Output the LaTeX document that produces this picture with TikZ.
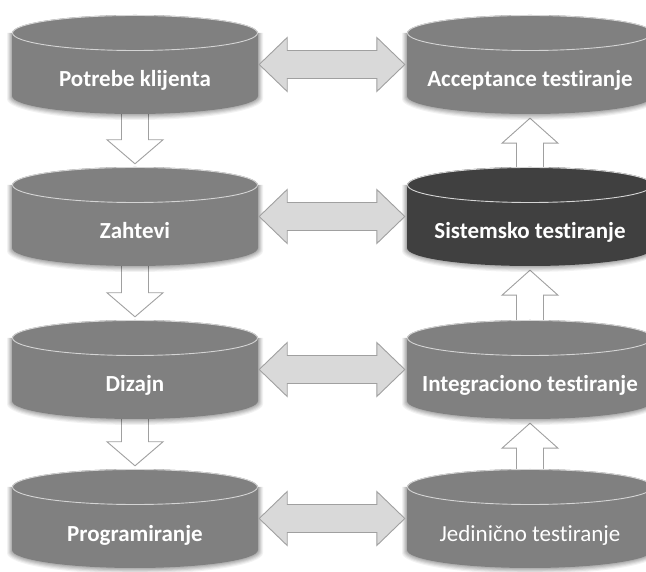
\documentclass[tikz,border=0pt]{standalone}
\usepackage{fontspec}
\setmainfont{Carlito}[RawFeature=-liga]
\usetikzlibrary{calc}
\definecolor{cylgray}{HTML}{808080}
\definecolor{cyldark}{HTML}{404040}
\definecolor{rimcol}{HTML}{D4D4D4}
\definecolor{dblfill}{HTML}{D9D9D9}
\definecolor{arrline}{HTML}{A0A0A0}
\tikzset{
  cylnode/.style={rectangle, minimum width=246pt, minimum height=99pt, inner sep=0pt},
  cyltext/.style={text=white, font=\bfseries\fontsize{23}{23}\selectfont, anchor=base, inner sep=0pt},
  cyltextlight/.style={text=white, font=\fontsize{23}{23}\selectfont, anchor=base, inner sep=0pt},
  dblarrow/.style={fill=dblfill, draw=arrline, line width=0.9pt, line join=miter},
  vertarrow/.style={fill=white, draw=arrline, line width=0.9pt, line join=miter},
  rimline/.style={draw=rimcol, line width=0.9pt},
}
\newcommand\cylshape[2]{% #1 node name, #2 fill colour
  \begin{scope}[shift={(#1.center)}]
    \foreach \k/\o in {5/0.05,4/0.06,3/0.07,2/0.08,1/0.08}{
      \fill[black, opacity=\o]
        (-123pt-\k pt,31.5pt) -- (-123pt-\k pt,-31.5pt-\k pt*0.6)
        arc[start angle=180, end angle=360, x radius=123pt+\k pt, y radius=18pt+\k pt*0.6]
        -- (123pt+\k pt,31.5pt) -- cycle;
    }
    \fill[#2] (-123pt,31.5pt) -- (-123pt,-31.5pt)
      arc[start angle=180, end angle=360, x radius=123pt, y radius=18pt]
      -- (123pt,31.5pt) -- cycle;
    \fill[#2] (0,31.5pt) ellipse[x radius=123pt, y radius=18pt];
    \draw[rimline] (0,31.5pt) ellipse[x radius=122.5pt, y radius=17.5pt];
  \end{scope}
}
\newcommand\dblarr[2]{%
  \draw[dblarrow] let \p1=(#1.east), \p2=(#2.west) in
    (\x1+1pt,\y1) -- (\x1+29pt,\y1+27pt) -- (\x1+29pt,\y1+14pt)
    -- (\x2-30pt,\y1+14pt) -- (\x2-30pt,\y1+27pt) -- (\x2-2pt,\y1)
    -- (\x2-30pt,\y1-27pt) -- (\x2-30pt,\y1-14pt) -- (\x1+29pt,\y1-14pt)
    -- (\x1+29pt,\y1-27pt) -- cycle;
}
\newcommand\downarr[2]{%
  \draw[vertarrow] let \p1=(#1.south), \p2=(#2.north) in
    (\x1-13.5pt,\y1+15pt) -- (\x1-13.5pt,\y2+27pt) -- (\x1-28pt,\y2+27pt)
    -- (\x1,\y2+3pt) -- (\x1+28pt,\y2+27pt) -- (\x1+13.5pt,\y2+27pt)
    -- (\x1+13.5pt,\y1+15pt) -- cycle;
}
\newcommand\uparr[2]{%
  \draw[vertarrow] let \p1=(#1.north), \p2=(#2.south) in
    (\x1-13.5pt,\y1-15pt) -- (\x1-13.5pt,\y2-29pt) -- (\x1-28pt,\y2-29pt)
    -- (\x1,\y2-4pt) -- (\x1+28pt,\y2-29pt) -- (\x1+13.5pt,\y2-29pt)
    -- (\x1+13.5pt,\y1-15pt) -- cycle;
}
\begin{document}
\begin{tikzpicture}[x=1pt, y=1pt]
  \useasboundingbox (0,0) rectangle (646,571);
  \fill[white] (0,0) rectangle (646,571);
  \clip (0,0) rectangle (646,571);
  % named cylinder nodes
  \node[cylnode] (pk) at (135,506.5) {};
  \node[cylnode] (za) at (135,354.5) {};
  \node[cylnode] (di) at (135,201.5) {};
  \node[cylnode] (pr) at (135,52.5) {};
  \node[cylnode] (at) at (530,506.5) {};
  \node[cylnode] (st) at (530,354.5) {};
  \node[cylnode] (it) at (530,201.5) {};
  \node[cylnode] (jt) at (530,52.5) {};
  % vertical arrows (behind cylinders)
  \downarr{pk}{za}
  \downarr{za}{di}
  \downarr{di}{pr}
  \uparr{jt}{it}
  \uparr{it}{st}
  \uparr{st}{at}
  % cylinders
  \cylshape{pk}{cylgray}
  \cylshape{za}{cylgray}
  \cylshape{di}{cylgray}
  \cylshape{pr}{cylgray}
  \cylshape{at}{cylgray}
  \cylshape{st}{cyldark}
  \cylshape{it}{cylgray}
  \cylshape{jt}{cylgray}
  % horizontal double arrows
  \dblarr{pk}{at}
  \dblarr{za}{st}
  \dblarr{di}{it}
  \dblarr{pr}{jt}
  % texts
  \node[cyltext] (pk-t) at ([yshift=-22.5pt]pk.center) {Potrebe klijenta};
  \node[cyltext] (za-t) at ([yshift=-22.5pt]za.center) {Zahtevi};
  \node[cyltext] (di-t) at ([yshift=-22.5pt]di.center) {Dizajn};
  \node[cyltext] (pr-t) at ([yshift=-22.5pt]pr.center) {Programiranje};
  \node[cyltext] (at-t) at ([yshift=-22.5pt]at.center) {Acceptance testiranje};
  \node[cyltext] (st-t) at ([yshift=-22.5pt]st.center) {Sistemsko testiranje};
  \node[cyltext] (it-t) at ([yshift=-22.5pt]it.center) {Integraciono testiranje};
  \node[cyltextlight] (jt-t) at ([yshift=-22.5pt]jt.center) {Jedinično testiranje};
\end{tikzpicture}
\end{document}
